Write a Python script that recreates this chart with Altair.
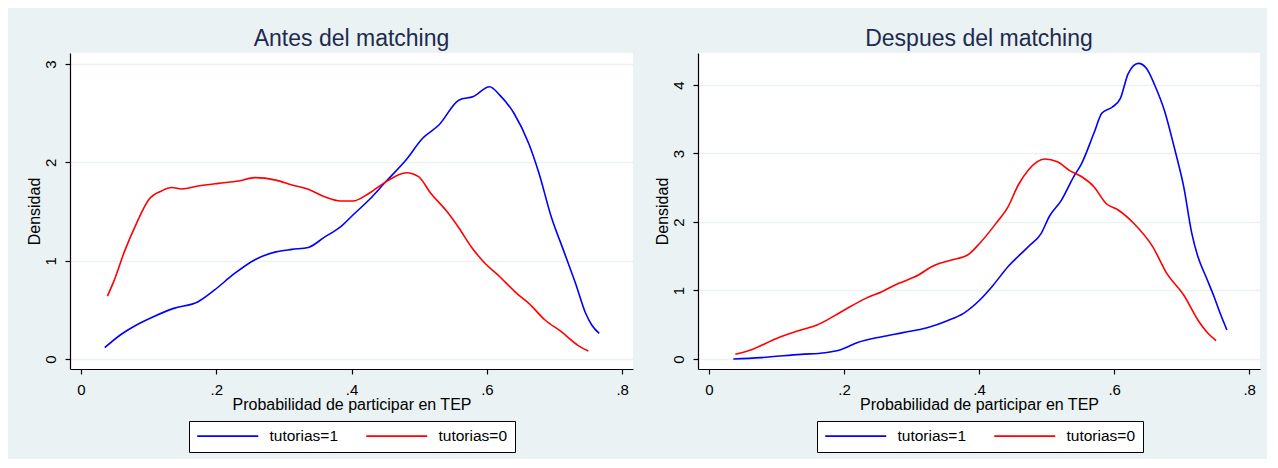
import altair as alt
import pandas as pd

# ---- data (kernel density curves) ----
grupos = ["tutorias=1", "tutorias=0"]
colores = ["#0000ff", "#ff0000"]

antes_t1_x = [.035, .058, .082, .107, .137, .173, .197, .227, .257, .288, .312, .336, .36, .384, .402, .426,
              .45, .481, .505, .529, .559, .58, .604, .619, .64, .662, .677, .695, .713, .731, .746, .755, .766]
antes_t1_y = [.115, .244, .346, .43, .515, .583, .70, .87, 1.01, 1.09, 1.115, 1.135, 1.24, 1.346, 1.465, 1.62,
              1.80, 2.03, 2.245, 2.38, 2.635, 2.67, 2.77, 2.685, 2.50, 2.19, 1.89, 1.45, 1.11, .77, .465, .346, .26]

antes_t0_x = [.039, .049, .064, .082, .10, .119, .134, .149, .173, .203, .233, .257, .288, .312, .336, .36, .384,
              .402, .426, .45, .481, .499, .517, .541, .559, .577, .595, .619, .644, .662, .686, .71, .734, .75]
antes_t0_y = [.64, .80, 1.09, 1.38, 1.62, 1.71, 1.745, 1.73, 1.76, 1.787, 1.81, 1.845, 1.82, 1.77, 1.726, 1.65,
              1.607, 1.607, 1.686, 1.80, 1.895, 1.855, 1.686, 1.50, 1.33, 1.14, .99, .837, .668, .566, .397, .278,
              .142, .081]

despues_t1_x = [.036, .076, .136, .172, .196, .22, .256, .287, .323, .353, .377, .401, .419, .443, .473, .492,
                .504, .522, .54, .552, .57, .582, .597, .609, .621, .636, .648, .66, .675, .69, .703, .715, .724,
                .736, .748, .757, .767]
despues_t1_y = [0, .02, .068, .092, .14, .24, .326, .385, .457, .56, .667, .861, 1.056, 1.35, 1.64, 1.835, 2.08,
                2.32, 2.66, 2.857, 3.295, 3.59, 3.675, 3.8, 4.17, 4.315, 4.24, 4.0, 3.61, 3.05, 2.515, 1.835,
                1.495, 1.20, .91, .667, .423]

despues_t0_x = [.039, .064, .10, .136, .16, .196, .232, .256, .281, .305, .335, .359, .383, .401, .425, .443,
                .458, .473, .497, .516, .534, .552, .57, .588, .606, .63, .657, .678, .703, .724, .739, .751]
despues_t0_y = [.068, .14, .30, .423, .496, .69, .885, .983, 1.105, 1.20, 1.372, 1.445, 1.518, 1.69, 1.98, 2.225,
                2.54, 2.76, 2.92, 2.88, 2.75, 2.66, 2.515, 2.27, 2.175, 1.97, 1.64, 1.25, .934, .57, .375, .267]

x_ticks = [0, .2, .4, .6, .8]
FONT = "Liberation Sans"


def make_df(x1, y1, x0, y0):
    rows = []
    for i, (a, b) in enumerate(zip(x1, y1)):
        rows.append({"x": a, "y": b, "grupo": grupos[0], "i": i})
    for i, (a, b) in enumerate(zip(x0, y0)):
        rows.append({"x": a, "y": b, "grupo": grupos[1], "i": i})
    return pd.DataFrame(rows)


def panel(title, df, y_ticks, y_domain, w):
    return alt.Chart(df).mark_line(strokeWidth=1.6, interpolate="monotone").encode(
        x=alt.X("x:Q",
                scale=alt.Scale(domain=[-0.0163, 0.816], nice=False, zero=False),
                axis=alt.Axis(values=x_ticks, title="Probabilidad de participar en TEP",
                              labelExpr="datum.value == 0 ? '0' : replace(format(datum.value, '.1f'), '0.', '.')",
                              grid=False, domainColor="#000000", domainWidth=1.2,
                              tickColor="#000000", tickWidth=1.2, tickSize=5,
                              labelFontSize=15, labelFont=FONT, labelColor="#000000",
                              labelBaseline="alphabetic", labelPadding=20, labelFlush=False,
                              titleFontSize=16, titleFont=FONT, titleFontWeight="normal",
                              titleColor="#000000", titleBaseline="alphabetic", titleY=40)),
        y=alt.Y("y:Q",
                scale=alt.Scale(domain=y_domain, nice=False, zero=False),
                axis=alt.Axis(values=y_ticks, title="Densidad", format="d",
                              grid=True, gridColor="#eaf2f3", gridWidth=1.5,
                              domainColor="#000000", domainWidth=1.2,
                              tickColor="#000000", tickWidth=1.2, tickSize=5,
                              labelAngle=270, labelAlign="center", labelBaseline="alphabetic",
                              labelPadding=10, labelFontSize=15, labelFont=FONT, labelColor="#000000",
                              titleAngle=270, titleBaseline="alphabetic", titleX=-31, titleY=158,
                              titleFontSize=16, titleFont=FONT, titleFontWeight="normal",
                              titleColor="#000000")),
        color=alt.Color("grupo:N",
                        scale=alt.Scale(domain=grupos, range=colores),
                        legend=alt.Legend(title=None, orient="none", legendX=119, legendY=368,
                                          direction="horizontal", strokeColor="#000000",
                                          fillColor="#ffffff", padding=7,
                                          symbolType="M-5,0H5", symbolSize=149, symbolStrokeWidth=1.6,
                                          symbolOffset=24, labelOffset=34,
                                          labelFontSize=15.5, labelFont=FONT, labelColor="#000000",
                                          columnPadding=24)),
        order="i:Q",
    ).properties(
        width=w, height=316,
        title=alt.Title(title, fontSize=23, fontWeight="normal", font=FONT, color="#1e2a4f",
                        baseline="alphabetic", offset=-16, anchor="middle", frame="group"),
    )


left = panel("Antes del matching", make_df(antes_t1_x, antes_t1_y, antes_t0_x, antes_t0_y),
             [0, 1, 2, 3], [-0.1017, 3.113], 563)
right = panel("Despues del matching", make_df(despues_t1_x, despues_t1_y, despues_t0_x, despues_t0_y),
              [0, 1, 2, 3, 4], [-0.146, 4.467], 562)

chart = alt.hconcat(left, right, spacing=65, bounds="flush").resolve_scale(
    color="independent"
).resolve_legend(color="independent").properties(
    background="#eaf2f3",
    padding={"left": 18, "top": 20, "right": 7, "bottom": 6},
).configure(font=FONT).configure_view(stroke=None, fill="#ffffff")

chart.save("out.html", embed_options={"renderer": "svg", "actions": False})
